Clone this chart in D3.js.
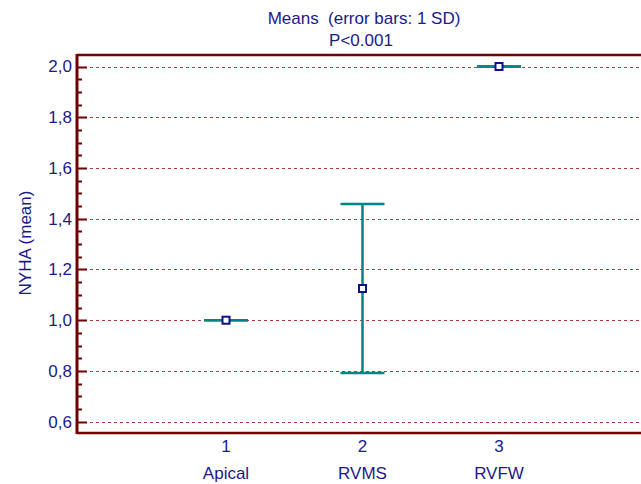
<!DOCTYPE html>
<html>
<head>
<script src="https://cdn.jsdelivr.net/npm/d3@7"></script>
<style>
  body { margin: 0; background: #fff; }
  text { font-family: "Liberation Sans", Arial, sans-serif; fill: #1a1a88; white-space: pre; }
</style>
</head>
<body>
<svg id="chart" width="641" height="484"></svg>
<script>
var groups = ["Apical", "RVMS", "RVFW"];
var groupNo = [1, 2, 3];
var means = [1.0, 1.125, 2.0];
var sds = [0, 0.333, 0];
var yTicks = [0.6, 0.8, 1.0, 1.2, 1.4, 1.6, 1.8, 2.0];

var svg = d3.select("#chart");
var pLeft = 77, pTop = 55, pBottom = 433, pRight = 641;

var x = d3.scaleLinear().domain([1, 3]).range([226, 499]);
var y = d3.scaleLinear().domain([0.6, 2.0]).range([421.7, 66.5]);

var axisColor = "#6e0000";
var fs = 17;

// grid
svg.append("g").selectAll("line").data(yTicks).enter().append("line")
  .attr("x1", pLeft + 1).attr("x2", pRight)
  .attr("y1", d => Math.round(y(d)) + 0.5).attr("y2", d => Math.round(y(d)) + 0.5)
  .attr("stroke", "#b23a3a").attr("stroke-width", 1).attr("stroke-dasharray", "3,3");

// frame
svg.append("line").attr("x1", pLeft).attr("x2", pRight).attr("y1", pTop).attr("y2", pTop)
  .attr("stroke", axisColor).attr("stroke-width", 2.5);
svg.append("line").attr("x1", pLeft).attr("x2", pRight).attr("y1", pBottom).attr("y2", pBottom)
  .attr("stroke", axisColor).attr("stroke-width", 2.5);

// y axis
var yAxis = d3.axisLeft(y).tickValues(yTicks).tickSize(0).tickPadding(5)
  .tickFormat(d => d3.format(".1f")(d).replace(".", ","));
var ya = svg.append("g").attr("transform", "translate(" + pLeft + ",0)").call(yAxis);
ya.select(".domain").remove();
ya.selectAll("text").attr("font-size", fs).attr("fill", "#1a1a88")
  .style("font-family", "'Liberation Sans', Arial, sans-serif");

var minor = d3.range(0.6, 2.0001, 0.05);
svg.append("g").selectAll("line").data(minor).enter().append("line")
  .attr("x1", pLeft).attr("x2", (d, i) => i % 4 === 0 ? pLeft + 10 : pLeft + 5)
  .attr("y1", d => Math.round(y(d)) + 0.5).attr("y2", d => Math.round(y(d)) + 0.5)
  .attr("stroke", axisColor).attr("stroke-width", 2);

svg.append("line").attr("x1", pLeft).attr("x2", pLeft).attr("y1", pTop - 1).attr("y2", pBottom + 1)
  .attr("stroke", axisColor).attr("stroke-width", 3);

// x labels
var xa = svg.append("g");
xa.selectAll(".num").data(groupNo).enter().append("text")
  .attr("x", d => x(d)).attr("y", 452).attr("text-anchor", "middle")
  .attr("font-size", fs).text(d => d);
xa.selectAll(".name").data(groups).enter().append("text")
  .attr("x", (d, i) => x(groupNo[i])).attr("y", 479).attr("text-anchor", "middle")
  .attr("font-size", fs).text(d => d);

// error bars
var teal = "#008585";
var eb = svg.append("g");
groupNo.forEach(function (g, i) {
  var hi = means[i] + sds[i], lo = means[i] - sds[i];
  eb.append("line").attr("x1", x(g)).attr("x2", x(g)).attr("y1", y(hi)).attr("y2", y(lo))
    .attr("stroke", teal).attr("stroke-width", 2.5);
  [hi, lo].forEach(function (v) {
    eb.append("line").attr("x1", x(g) - 22).attr("x2", x(g) + 22).attr("y1", y(v)).attr("y2", y(v))
      .attr("stroke", teal).attr("stroke-width", 2.5);
  });
});
eb.selectAll("rect").data(means).enter().append("rect")
  .attr("x", (d, i) => x(groupNo[i]) - 3.5).attr("y", d => y(d) - 3.5)
  .attr("width", 7).attr("height", 7)
  .attr("fill", "#fff").attr("stroke", "#10108a").attr("stroke-width", 2);

// titles
svg.append("text").attr("x", 364).attr("y", 24).attr("text-anchor", "middle")
  .attr("font-size", fs).text("Means  (error bars: 1 SD)");
svg.append("text").attr("x", 361).attr("y", 46).attr("text-anchor", "middle")
  .attr("font-size", fs).text("P<0.001");
svg.append("text").attr("transform", "translate(31,243) rotate(-90)")
  .attr("text-anchor", "middle").attr("font-size", fs).text("NYHA (mean)");
</script>
</body>
</html>
